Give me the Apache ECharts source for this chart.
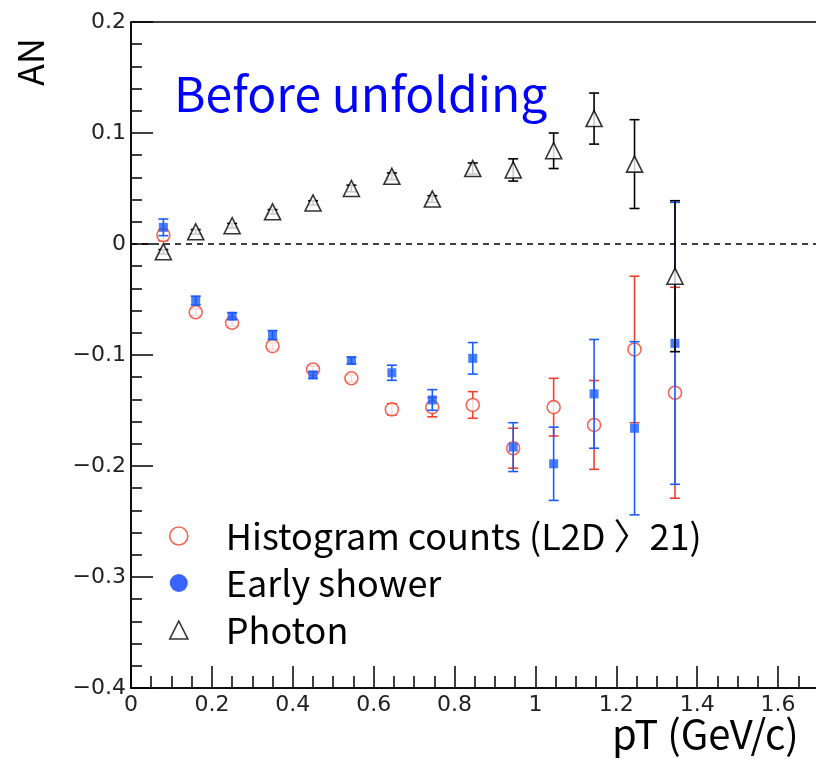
<!DOCTYPE html>
<html>
<head>
<meta charset="utf-8">
<script src="https://cdn.jsdelivr.net/npm/echarts@6/dist/echarts.min.js"></script>
<style>
  html, body { margin: 0; padding: 0; background: #fff; overflow: hidden; width: 816px; height: 759px; }
  /* the frame continues past the right edge of the page, so the canvas is wider than the view */
  #chart { width: 870px; height: 759px; }
</style>
</head>
<body>
<div id="chart"></div>
<script>
// pT bin centres (GeV/c)
const pT = [0.08, 0.16, 0.25, 0.35, 0.45, 0.545, 0.645, 0.745, 0.845, 0.945, 1.045, 1.145, 1.245, 1.345];

// Histogram counts (L2D > 21)
const histoAN  = [0.008, -0.0615, -0.071, -0.092, -0.113, -0.121, -0.149, -0.147, -0.145, -0.184, -0.147, -0.163, -0.095, -0.134];
const histoErr = [0.005, 0.003, 0.003, 0.003, 0.003, 0.003, 0.005, 0.0087, 0.012, 0.018, 0.026, 0.040, 0.066, 0.095];

// Early shower
const showerAN  = [0.015, -0.051, -0.065, -0.082, -0.118, -0.105, -0.116, -0.1405, -0.103, -0.183, -0.198, -0.135, -0.166, -0.0895];
const showerErr = [0.0075, 0.004, 0.003, 0.004, 0.003, 0.003, 0.0068, 0.0093, 0.0142, 0.022, 0.033, 0.049, 0.078, 0.127];

// Photon
const photonAN  = [-0.007, 0.011, 0.0165, 0.029, 0.037, 0.050, 0.061, 0.0405, 0.068, 0.0667, 0.084, 0.113, 0.072, -0.029];
const photonErr = [0.002, 0.002, 0.002, 0.002, 0.002, 0.003, 0.003, 0.003, 0.005, 0.010, 0.016, 0.023, 0.040, 0.068];

const seriesNames = ['Histogram counts (L2D 〉21)', 'Early shower', 'Photon'];
const RED = '#f0412e', BLUE = '#1a5cff', BLACK = '#000000';

const tickFont = 'DejaVu Sans';
const textFont = '"Noto Sans CJK KR", "Noto Sans", sans-serif';

function fmtTick(v) {
  const s = String(Math.round(v * 100) / 100);
  return s.replace('-', '\u2212');
}

// vertical error bars with end caps
function errorBars(vals, errs, color, z) {
  return {
    type: 'custom',
    silent: true,
    z: z,
    encode: { x: 0, y: [1, 2] },
    data: pT.map((x, i) => [x, vals[i] - errs[i], vals[i] + errs[i]]),
    renderItem: function (params, api) {
      const x = api.value(0);
      const lo = api.coord([x, api.value(1)]);
      const hi = api.coord([x, api.value(2)]);
      const cap = 5;
      const style = { stroke: color, lineWidth: 1.6 };
      return {
        type: 'group',
        children: [
          { type: 'line', shape: { x1: lo[0], y1: lo[1], x2: hi[0], y2: hi[1] }, style: style },
          { type: 'line', shape: { x1: lo[0] - cap, y1: lo[1], x2: lo[0] + cap, y2: lo[1] }, style: style },
          { type: 'line', shape: { x1: hi[0] - cap, y1: hi[1], x2: hi[0] + cap, y2: hi[1] }, style: style }
        ]
      };
    }
  };
}

function points(name, vals, symbol, size, itemStyle, z) {
  return {
    type: 'scatter',
    name: name,
    z: z,
    symbol: symbol,
    symbolSize: size,
    itemStyle: itemStyle,
    data: pT.map((x, i) => [x, vals[i]])
  };
}

const chart = echarts.init(document.getElementById('chart'), null, { renderer: 'canvas' });

chart.setOption({
  animation: false,
  backgroundColor: '#ffffff',
  grid: {
    left: 131, top: 22, width: 728, height: 666,
    show: true, borderColor: '#000', borderWidth: 1.5, backgroundColor: 'transparent'
  },
  xAxis: {
    type: 'value',
    min: 0, max: 1.8, interval: 0.2,
    axisLine: { show: true, onZero: false, lineStyle: { color: '#000', width: 1.5 } },
    axisTick: { show: true, inside: true, length: 22, lineStyle: { color: '#000', width: 1.5 } },
    minorTick: { show: true, splitNumber: 4, length: 12, lineStyle: { color: '#000', width: 1.5 } },
    splitLine: { show: false },
    axisLabel: {
      margin: 6, color: '#222', fontFamily: tickFont, fontSize: 22,
      formatter: v => (v > 1.65 ? '' : fmtTick(v))
    }
  },
  yAxis: {
    type: 'value',
    min: -0.4, max: 0.2, interval: 0.1,
    axisLine: { show: true, onZero: false, lineStyle: { color: '#000', width: 1.5 } },
    axisTick: { show: true, inside: true, length: 22, lineStyle: { color: '#000', width: 1.5 } },
    minorTick: { show: true, splitNumber: 5, length: 11, lineStyle: { color: '#000', width: 1.5 } },
    splitLine: { show: false },
    axisLabel: {
      margin: 5, color: '#222', fontFamily: tickFont, fontSize: 22,
      formatter: fmtTick
    }
  },
  legend: {
    orient: 'vertical',
    left: 169, top: 513,
    padding: 0,
    itemWidth: 18, itemHeight: 18,
    itemGap: 1,
    selectedMode: false,
    textStyle: {
      fontFamily: textFont, fontSize: 36, color: '#000',
      lineHeight: 46, padding: [0, 0, 0, 33]
    },
    data: [
      { name: seriesNames[0], icon: 'circle',
        itemStyle: { color: '#fff', borderColor: RED, borderWidth: 1.6 } },
      { name: seriesNames[1], icon: 'circle',
        itemStyle: { color: '#0a3cff', borderWidth: 0 } },
      { name: seriesNames[2], icon: 'triangle',
        itemStyle: { color: '#fff', borderColor: BLACK, borderWidth: 1.6 } }
    ]
  },
  graphic: [
    {
      type: 'text', left: 174, top: 70, z: 100,
      style: { text: 'Before unfolding', fill: '#0000ff', font: '48px "Noto Sans CJK KR", "Noto Sans", sans-serif' }
    },
    {
      type: 'text', x: 30, y: 62, rotation: Math.PI / 2, z: 100,
      style: { text: 'AN', fill: '#000', font: '36px "Noto Sans CJK KR", "Noto Sans", sans-serif',
               align: 'center', verticalAlign: 'middle' }
    },
    {
      type: 'text', left: 612, top: 714, z: 100,
      style: { text: 'pT (GeV/c)', fill: '#000', font: '40px "Noto Sans CJK KR", "Noto Sans", sans-serif' }
    }
  ],
  series: [
    {
      type: 'line', silent: true, z: 1, symbol: 'none', data: [],
      markLine: {
        silent: true, symbol: 'none', label: { show: false },
        lineStyle: { color: '#000', width: 1.5, type: [6, 5] },
        data: [{ yAxis: 0 }]
      }
    },
    errorBars(histoAN, histoErr, RED, 2),
    points(seriesNames[0], histoAN, 'circle', 13, { color: '#fff', borderColor: RED, borderWidth: 1.6 }, 3),
    errorBars(showerAN, showerErr, BLUE, 4),
    points(seriesNames[1], showerAN, 'rect', 9, { color: BLUE }, 5),
    errorBars(photonAN, photonErr, BLACK, 6),
    points(seriesNames[2], photonAN, 'triangle', 16, { color: '#fff', borderColor: BLACK, borderWidth: 1.6 }, 7)
  ]
});
</script>
</body>
</html>
